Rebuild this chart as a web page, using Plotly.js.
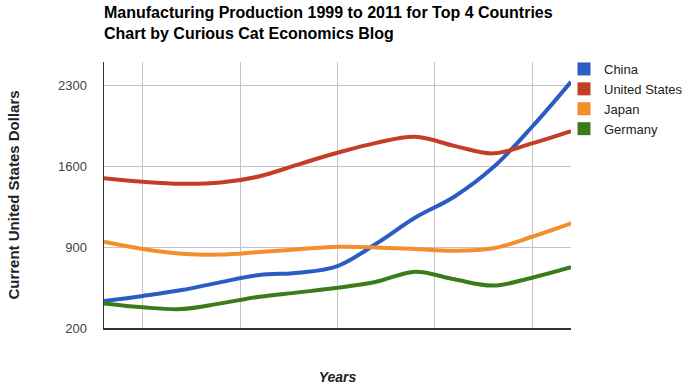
<!DOCTYPE html>
<html><head><meta charset="utf-8">
<script src="https://cdn.plot.ly/plotly-3.0.1.min.js"></script>
<style>html,body{margin:0;padding:0;background:#fff}#chart{width:690px;height:392px}</style>
</head><body><div id="chart"></div>
<script>
const years = [1999,2000,2001,2002,2003,2004,2005,2006,2007,2008,2009,2010,2011];
const china = [433,477,528,597,658,678,736,930,1155,1335,1589,1940,2329];
const unitedStates = [1494,1464,1447,1458,1512,1615,1715,1801,1853,1775,1710,1796,1902];
const japan = [946,883,842,835,857,880,903,897,883,868,889,989,1105];
const germany = [413,379,364,413,471,508,548,600,687,621,567,635,725];
const seriesNames = ['China','United States','Japan','Germany'];
const seriesValues = [china, unitedStates, japan, germany];
const colors = ['#2b5cc3','#c43d25','#f28f2a','#3a7c1c'];
const yTicks = [200,900,1600,2300];
const xGrid = [2000,2002.5,2005,2007.5,2010];

const font = 'Liberation Sans, Arial, sans-serif';
const traces = [];
seriesValues.forEach((vals, i) => {
  traces.push({
    x: years, y: vals, type: 'scatter', mode: 'lines',
    line: {color: colors[i], width: 4, shape: 'spline', smoothing: 1},
    showlegend: false, hoverinfo: 'skip'
  });
});
seriesValues.forEach((vals, i) => {
  traces.push({
    x: [null], y: [null], type: 'scatter', mode: 'markers', name: seriesNames[i],
    legendgroup: 'g' + i,
    marker: {color: colors[i], symbol: 'square', size: 13}, showlegend: true
  });
});

const layout = {
  width: 690, height: 392,
  margin: {l: 103.5, r: 118.5, t: 62, b: 64, autoexpand: false},
  paper_bgcolor: '#fff', plot_bgcolor: '#fff',
  font: {family: font, color: '#222'},
  title: {
    text: '<b>Manufacturing Production 1999 to 2011 for Top 4 Countries<br>Chart by Curious Cat Economics Blog</b>',
    xref: 'container', x: 104/690, xanchor: 'left',
    yref: 'container', y: 1 - 18/392, yanchor: 'top',
    font: {family: font, size: 16, color: '#000'}
  },
  xaxis: {
    range: [1999, 2011], tickvals: xGrid, showticklabels: false, ticks: '',
    showgrid: true, gridcolor: '#c4c4c4', gridwidth: 1, zeroline: false,
    showline: true, linecolor: '#333', linewidth: 1.5,
    title: {text: '<b><i>Years</i></b>', font: {family: font, size: 14, color: '#222'}, standoff: 43}
  },
  yaxis: {
    range: [200, 2500], tickvals: yTicks, ticktext: yTicks.map(String),
    showgrid: true, gridcolor: '#c4c4c4', gridwidth: 1, zeroline: false,
    showline: true, linecolor: '#333', linewidth: 1.5, ticks: '',
    ticklabelstandoff: 13,
    tickfont: {family: font, size: 13, color: '#444'},
    title: {text: '<b>Current United States Dollars</b>', font: {family: font, size: 15, color: '#222'}, standoff: 34}
  },
  legend: {
    xref: 'container', yref: 'container', x: 564/690, y: 1 - 54/392,
    xanchor: 'left', yanchor: 'top', bgcolor: 'rgba(0,0,0,0)', tracegroupgap: 2,
    font: {family: font, size: 13, color: '#222'}, traceorder: 'normal'
  },
  showlegend: true
};
Plotly.newPlot('chart', traces, layout, {displayModeBar: false, staticPlot: true});
</script></body></html>
